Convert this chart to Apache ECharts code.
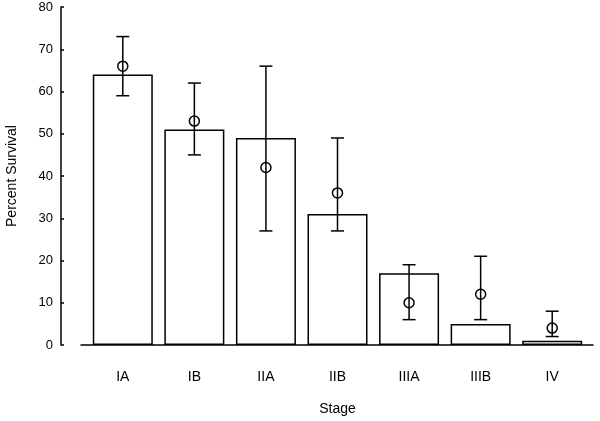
<!DOCTYPE html>
<html>
<head>
<meta charset="utf-8">
<script src="https://cdn.jsdelivr.net/npm/echarts@6/dist/echarts.min.js"></script>
<style>
  html, body { margin: 0; padding: 0; background: #fff; }
  #chart { width: 600px; height: 421px; }
</style>
</head>
<body>
<div id="chart"></div>
<script>
// stages on the x axis
const stages = ['IA', 'IB', 'IIA', 'IIB', 'IIIA', 'IIIB', 'IV'];
// bar heights
const barValues = [64, 51, 49, 31, 17, 5, 1];
// circle markers and their error ranges
const pointValues = [66, 53, 42, 36, 10, 12, 4];
const errLow = [59, 45, 27, 27, 6, 6, 2];
const errHigh = [73, 62, 66, 49, 19, 21, 8];

const font = 'Liberation Sans, Arial, sans-serif';

let errData = [];
for (let i = 0; i < stages.length; i++) {
  errData.push([i, errLow[i], errHigh[i], pointValues[i]]);
}

const myChart = echarts.init(document.getElementById('chart'));
const option = {
  animation: false,
  backgroundColor: '#fff',
  grid: [
    { left: 87, right: 12, top: 7, bottom: 76, outerBoundsMode: 'none' },
    { left: 81, right: 7, top: 7, bottom: 76, outerBoundsMode: 'none' } // only for the long x axis line
  ],
  xAxis: [{
    type: 'category',
    gridIndex: 0,
    data: stages,
    axisLine: { show: false },
    axisTick: { show: false },
    axisLabel: {
      color: '#000',
      fontSize: 14,
      fontFamily: font,
      margin: 25
    },
    name: 'Stage',
    nameLocation: 'middle',
    nameGap: 57,
    nameTextStyle: { color: '#000', fontSize: 14, fontFamily: font }
  }, {
    type: 'value',
    gridIndex: 1,
    min: 0,
    max: 1,
    axisLine: { show: true, lineStyle: { color: '#000', width: 1.5 } },
    axisTick: { show: false },
    axisLabel: { show: false },
    splitLine: { show: false }
  }],
  yAxis: [{
    type: 'value',
    gridIndex: 0,
    min: 0,
    max: 80,
    interval: 10,
    offset: 26,
    axisLine: { show: true, lineStyle: { color: '#000', width: 1.5 } },
    axisTick: { show: true, inside: true, length: 3, lineStyle: { color: '#000', width: 1.5 } },
    axisLabel: { color: '#000', fontSize: 13, fontFamily: font, margin: 8 },
    splitLine: { show: false },
    name: 'Percent Survival',
    nameLocation: 'middle',
    nameRotate: 90,
    nameGap: 42,
    nameTextStyle: { color: '#000', fontSize: 14, fontFamily: font }
  }, {
    type: 'value',
    gridIndex: 1,
    show: false
  }],
  series: [{
    type: 'bar',
    xAxisIndex: 0,
    yAxisIndex: 0,
    data: barValues,
    barWidth: 60,
    itemStyle: {
      color: '#fff',
      borderColor: '#000',
      borderWidth: 1.5
    }
  }, {
    type: 'custom',
    xAxisIndex: 0,
    yAxisIndex: 0,
    data: errData,
    z: 10,
    renderItem: function (params, api) {
      const x = api.value(0);
      const lo = api.coord([x, api.value(1)]);
      const hi = api.coord([x, api.value(2)]);
      const mid = api.coord([x, api.value(3)]);
      const cap = 6.5;
      const st = { stroke: '#000', lineWidth: 1.5, fill: null };
      return {
        type: 'group',
        children: [
          { type: 'line', shape: { x1: lo[0], y1: lo[1], x2: hi[0], y2: hi[1] }, style: st },
          { type: 'line', shape: { x1: lo[0] - cap, y1: lo[1], x2: lo[0] + cap, y2: lo[1] }, style: st },
          { type: 'line', shape: { x1: hi[0] - cap, y1: hi[1], x2: hi[0] + cap, y2: hi[1] }, style: st },
          { type: 'circle', shape: { cx: mid[0], cy: mid[1], r: 5 }, style: st }
        ]
      };
    }
  }]
};
myChart.setOption(option, true);
window.addEventListener('resize', () => {
  if (myChart) {
    myChart.resize();
  }
});
</script>
</body>
</html>
